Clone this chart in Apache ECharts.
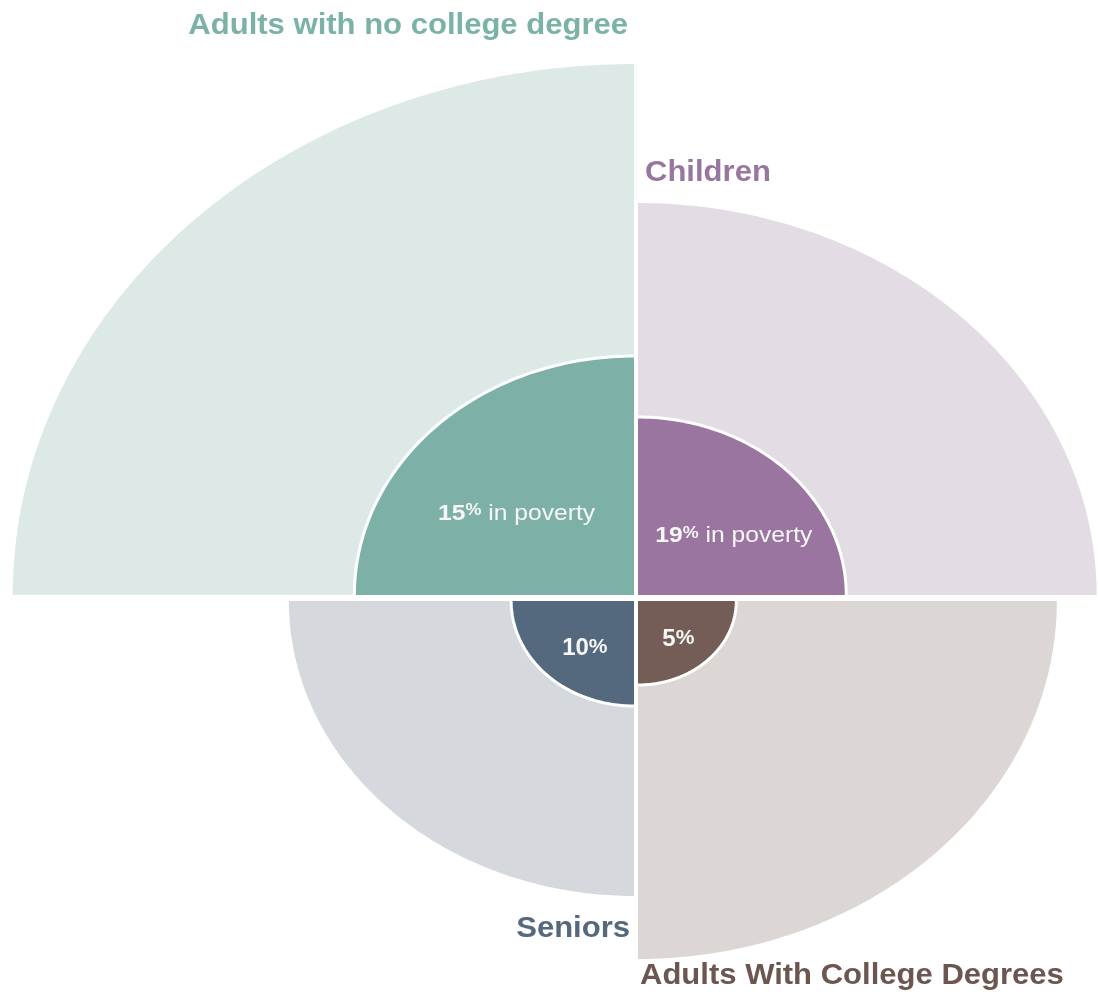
<!DOCTYPE html>
<html>
<head>
<meta charset="utf-8">
<title>Poverty by group</title>
<script src="https://cdn.jsdelivr.net/npm/echarts@6/dist/echarts.min.js"></script>
<style>
  html, body { margin: 0; padding: 0; background: #ffffff; }
  #chart { width: 1098px; height: 1000px; }
</style>
</head>
<body>
<div id="chart"></div>
<script>
// Groups, one per quadrant (top-left, top-right, bottom-left, bottom-right)
const categories = [
  'Adults with no college degree',
  'Children',
  'Seniors',
  'Adults With College Degrees'
];
// Relative size of each whole group (radius of the outer wedge)
const groupRadius = [531, 392, 295, 358];
// Relative size of the part of the group in poverty (radius of the inner wedge)
const povertyRadius = [239, 178, 105, 84];
// Share of the group in poverty, in percent
const povertyRate = [15, 19, 10, 5];

// Layout / style settings for each quadrant
const quadrantSign = [[-1, 1], [1, 1], [-1, -1], [1, -1]];
const outerColors = ['#dde9e6', '#e3dce5', '#d5d9de', '#dcd7d4'];
const innerColors = ['#7db1a8', '#9a75a0', '#54697e', '#735d56'];
const labelColors = ['#7ab2a7', '#97779f', '#55697d', '#6b5650'];
const labelPlace = [
  { align: 'right', dx: -8, gap: 38 },
  { align: 'left',  dx: 9,  gap: 30 },
  { align: 'right', dx: -6, gap: 33 },
  { align: 'left',  dx: 4,  gap: 17 }
];
// where the percentage sits inside each poverty wedge (fractions of its radii)
const ratePlace = [
  { fx: 0.42, fy: 0.34 },
  { fx: 0.46, fy: 0.33 },
  { fx: 0.40, fy: 0.45 },
  { fx: 0.41, fy: 0.46 }
];

const W = 1098, H = 1000;
const CX = 636, CY = 598;      // pixel position of the shared corner
const X_STRETCH = 1.17;         // horizontal pixels per unit vs vertical
const FONT = '"Liberation Sans", Arial, Helvetica, sans-serif';
const WHITE_TEXT = '#f7f7f7';

function arcPoints(cx, cy, rx, ry, sx, sy, n) {
  const pts = [];
  for (let k = 0; k <= n; k++) {
    const t = (Math.PI / 2) * k / n;
    pts.push([cx + sx * rx * Math.cos(t), cy - sy * ry * Math.sin(t)]);
  }
  return pts;
}

function renderItem(params, api) {
  const i = params.dataIndex;
  const R = api.value(0), r = api.value(1), rate = api.value(2);
  const sx = quadrantSign[i][0], sy = quadrantSign[i][1];
  const c = api.coord([0, 0]);
  const cx = c[0] + sx * 2;
  const cy = c[1] - sy * 3;
  const Rx = api.size([R, 0])[0], Ry = api.size([0, R])[1];
  const rx = api.size([r, 0])[0], ry = api.size([0, r])[1];

  const outerArc = arcPoints(cx, cy, Rx, Ry, sx, sy, 120);
  const innerArc = arcPoints(cx, cy, rx, ry, sx, sy, 80);

  const children = [
    {
      type: 'polygon',
      shape: { points: [[cx, cy]].concat(outerArc) },
      style: { fill: outerColors[i] }
    },
    {
      type: 'polygon',
      shape: { points: [[cx, cy]].concat(innerArc) },
      style: { fill: innerColors[i] }
    },
    {
      type: 'polyline',
      shape: { points: innerArc },
      style: { stroke: '#ffffff', lineWidth: 3, fill: null }
    }
  ];

  // percentage label inside the poverty wedge
  const big = r > 150;
  const rp = ratePlace[i];
  children.push({
    type: 'text',
    x: cx + sx * rp.fx * rx,
    y: cy - sy * rp.fy * ry,
    scaleX: big ? 1.12 : 1.0,
    style: {
      text: big ? '{n|' + rate + '}{p|%}{t| in poverty}' : '{n|' + rate + '}{p|%}',
      align: 'center',
      verticalAlign: 'middle',
      rich: {
        n: { fontFamily: FONT, fontWeight: 'bold', fontSize: big ? 22 : 24, fill: WHITE_TEXT, verticalAlign: 'bottom' },
        p: { fontFamily: FONT, fontWeight: 'bold', fontSize: big ? 16 : 21, fill: WHITE_TEXT, verticalAlign: 'top' },
        t: { fontFamily: FONT, fontWeight: 'normal', fontSize: 22, fill: WHITE_TEXT, verticalAlign: 'bottom' }
      }
    }
  });

  // group name outside the outer wedge
  const lp = labelPlace[i];
  const edgeY = sy > 0 ? cy - Ry - lp.gap : cy + Ry + lp.gap;
  children.push({
    type: 'text',
    x: c[0] + lp.dx,
    y: edgeY,
    scaleX: 1.07,
    style: {
      text: categories[i],
      fill: labelColors[i],
      fontFamily: FONT,
      fontWeight: 'bold',
      fontSize: 29,
      align: lp.align,
      verticalAlign: 'middle'
    }
  });

  return { type: 'group', children: children };
}

const chart = echarts.init(document.getElementById('chart'), null, { renderer: 'canvas' });

chart.setOption({
  animation: false,
  backgroundColor: '#ffffff',
  grid: { left: 0, top: 0, width: W, height: H, containLabel: false },
  xAxis: {
    type: 'value',
    show: false,
    min: -CX / X_STRETCH,
    max: (W - CX) / X_STRETCH
  },
  yAxis: {
    type: 'value',
    show: false,
    min: -(H - CY),
    max: CY
  },
  series: [{
    type: 'custom',
    renderItem: renderItem,
    coordinateSystem: 'cartesian2d',
    clip: false,
    encode: { x: -1, y: -1 },
    data: categories.map((name, k) => ({
      name: name,
      value: [groupRadius[k], povertyRadius[k], povertyRate[k]]
    }))
  }]
});
</script>
</body>
</html>
